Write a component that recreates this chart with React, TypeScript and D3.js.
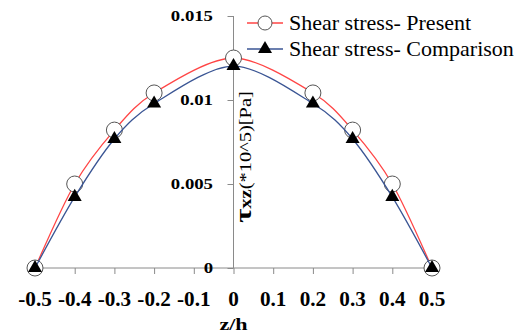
import * as d3 from 'd3';
import React, { useEffect, useRef } from 'react';

const zPresent = [-0.5, -0.4, -0.3, -0.2, 0, 0.2, 0.3, 0.4, 0.5];
const present = [0, 0.005, 0.00821, 0.01042, 0.0125, 0.01042, 0.00821, 0.005, 0];
const zComparison = [-0.5, -0.4, -0.3, -0.2, 0, 0.2, 0.3, 0.4, 0.5];
const comparison = [0, 0.00423, 0.00768, 0.00979, 0.01202, 0.00979, 0.00768, 0.00423, 0];
const xTicks = [-0.5, -0.4, -0.3, -0.2, -0.1, 0, 0.1, 0.2, 0.3, 0.4, 0.5];
const yTicks = [0, 0.005, 0.01, 0.015];
const legendLabels = ['Shear stress- Present', 'Shear stress- Comparison'];

export default function App() {
  const ref = useRef<SVGSVGElement>(null);

  useEffect(() => {
    const svg = d3.select(ref.current);
    svg.selectAll('*').remove();

    const x = d3.scaleLinear().domain([-0.5, 0.5]).range([35, 432]);
    const y = d3.scaleLinear().domain([0, 0.015]).range([268, 16]);
    const font = 'Liberation Serif, DejaVu Serif, serif';
    const axisColor = '#8a8a8a';
    const red = '#ff4545';
    const blue = '#3a5594';

    // x axis
    const xAxis = svg
      .append('g')
      .attr('transform', 'translate(0,' + y(0) + ')')
      .call(d3.axisBottom(x).tickValues(xTicks).tickSize(6).tickFormat(() => ''));
    xAxis.select('.domain').attr('stroke', axisColor).attr('d', 'M' + x(-0.5) + ',0H' + x(0.5));
    xAxis.selectAll('.tick line').attr('stroke', axisColor);

    svg
      .selectAll('.xlab')
      .data(xTicks)
      .enter()
      .append('text')
      .attr('transform', (d) => 'translate(' + x(d) + ',306) scale(1.06,1)')
      .attr('text-anchor', 'middle')
      .style('font-family', font)
      .attr('font-weight', 'bold')
      .attr('font-size', 20)
      .text((d) => String(d));

    svg
      .append('text')
      .attr('transform', 'translate(' + x(0) + ',330) scale(1.3,1)')
      .attr('text-anchor', 'middle')
      .style('font-family', font)
      .attr('font-weight', 'bold')
      .attr('font-size', 17)
      .text('z/h');

    // y axis
    const yAxis = svg
      .append('g')
      .attr('transform', 'translate(' + x(0) + ',0)')
      .call(d3.axisLeft(y).tickValues(yTicks).tickSize(6).tickFormat(() => ''));
    yAxis.select('.domain').attr('stroke', axisColor).attr('d', 'M0,' + y(0.015) + 'V' + y(0));
    yAxis.selectAll('.tick line').attr('stroke', axisColor);

    svg
      .selectAll('.ylab')
      .data(yTicks)
      .enter()
      .append('text')
      .attr('transform', (d) => 'translate(213,' + y(d) + ') scale(1.25,1)')
      .attr('dy', '0.35em')
      .attr('text-anchor', 'end')
      .style('font-family', font)
      .attr('font-weight', 'bold')
      .attr('font-size', 15)
      .text((d) => String(d));

    const yTitle = svg
      .append('text')
      .attr('transform', 'translate(245,157) rotate(-90) scale(1.28,1)')
      .attr('text-anchor', 'middle')
      .attr('dy', '0.35em')
      .style('font-family', font)
      .attr('font-size', 16);
    yTitle.append('tspan').attr('font-weight', 'bold').attr('font-size', 24).text('τ');
    yTitle.append('tspan').attr('font-weight', 'bold').text('xz');
    yTitle.append('tspan').text('(*10^5)[Pa]');

    const line = d3
      .line<[number, number]>()
      .x((d) => x(d[0]))
      .y((d) => y(d[1]))
      .curve(d3.curveCardinal.tension(0.1));

    const presentPts: [number, number][] = zPresent.map((z, i) => [z, present[i]]);
    const compPts: [number, number][] = zComparison.map((z, i) => [z, comparison[i]]);

    svg.append('path').attr('d', line(presentPts)).attr('fill', 'none').attr('stroke', red).attr('stroke-width', 1.3);
    svg
      .selectAll('.circ')
      .data(presentPts)
      .enter()
      .append('circle')
      .attr('cx', (d) => x(d[0]))
      .attr('cy', (d) => y(d[1]))
      .attr('r', 8)
      .attr('fill', '#fff')
      .attr('stroke', '#555')
      .attr('stroke-width', 1);

    svg.append('path').attr('d', line(compPts)).attr('fill', 'none').attr('stroke', blue).attr('stroke-width', 1.3);
    const tri = d3.symbol().type(d3.symbolTriangle).size(85);
    svg
      .selectAll('.tri')
      .data(compPts)
      .enter()
      .append('path')
      .attr('d', tri)
      .attr('transform', (d) => 'translate(' + x(d[0]) + ',' + y(d[1]) + ')')
      .attr('fill', '#000');

    // legend
    const legend = svg.append('g');
    legendLabels.forEach((label, i) => {
      const cy = 23 + i * 26;
      legend
        .append('line')
        .attr('x1', 247)
        .attr('x2', 283)
        .attr('y1', cy)
        .attr('y2', cy)
        .attr('stroke', i === 0 ? red : blue)
        .attr('stroke-width', 1.3);
      if (i === 0) {
        legend.append('circle').attr('cx', 265).attr('cy', cy).attr('r', 7).attr('fill', '#fff').attr('stroke', '#555');
      } else {
        legend.append('path').attr('d', tri).attr('transform', 'translate(265,' + cy + ')').attr('fill', '#000');
      }
      legend
        .append('text')
        .attr('x', 289)
        .attr('y', cy + 7)
        .style('font-family', font)
        .attr('font-size', 22)
        .text(label);
    });
  }, []);

  return <svg ref={ref} width={525} height={333} style={{ position: 'absolute', left: 0, top: 0 }} />;
}
